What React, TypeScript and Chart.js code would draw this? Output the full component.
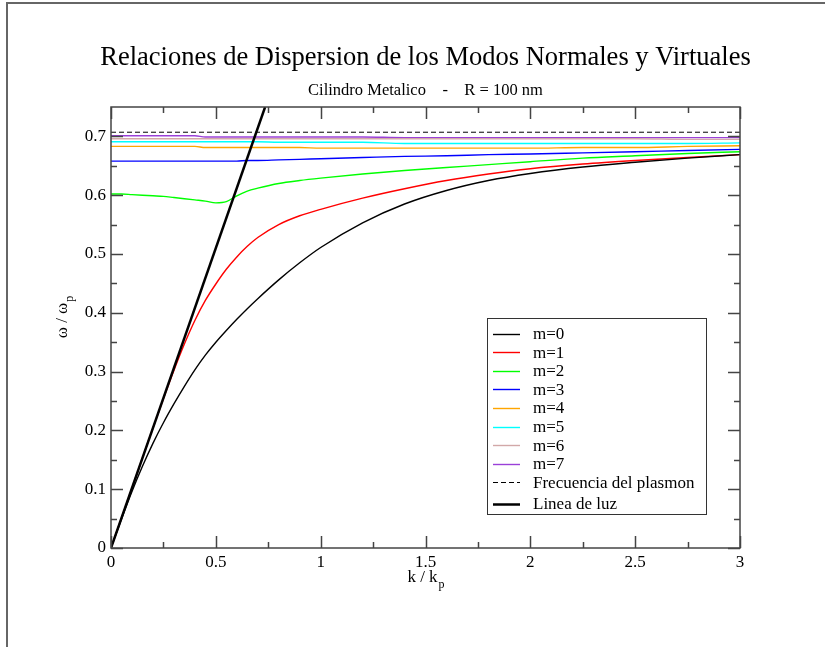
import { useEffect, useRef } from 'react';
import { Chart, registerables } from 'chart.js';

Chart.register(...registerables);

const chartTitle = 'Relaciones de Dispersion de los Modos Normales y Virtuales';
const chartSubtitle = 'Cilindro Metalico    -    R = 100 nm';

const xMajor = [0, 0.5, 1, 1.5, 2, 2.5, 3];
const xTickLabels = ['0', '0.5', '1', '1.5', '2', '2.5', '3'];
const xMinor = [0.25, 0.75, 1.25, 1.75, 2.25, 2.75];
const yMajor = [0, 0.1, 0.2, 0.3, 0.4, 0.5, 0.6, 0.7];
const yTickLabels = ['0', '0.1', '0.2', '0.3', '0.4', '0.5', '0.6', '0.7'];
const yMinor = [0.05, 0.15, 0.25, 0.35, 0.45, 0.55, 0.65];

const kGrid = [0, 0.05, 0.1, 0.15, 0.2, 0.25, 0.3, 0.35, 0.4, 0.45, 0.5, 0.55, 0.6, 0.65, 0.7, 0.8, 0.9, 1.0, 1.2, 1.4, 1.6, 1.8, 2.0, 2.25, 2.5, 2.75, 3.0];

const m0 = [0, 0.049, 0.096, 0.139, 0.178, 0.213, 0.245, 0.275, 0.303, 0.328, 0.350, 0.370, 0.389, 0.407, 0.424, 0.456, 0.485, 0.511, 0.553, 0.585, 0.608, 0.625, 0.637, 0.648, 0.656, 0.663, 0.669];
const m1 = [0, 0.051, 0.102, 0.153, 0.204, 0.254, 0.302, 0.347, 0.387, 0.421, 0.449, 0.474, 0.495, 0.513, 0.528, 0.550, 0.565, 0.576, 0.595, 0.611, 0.625, 0.636, 0.645, 0.653, 0.659, 0.664, 0.669];
const m2 = [0.602, 0.602, 0.601, 0.600, 0.599, 0.598, 0.596, 0.594, 0.592, 0.590, 0.587, 0.589, 0.599, 0.607, 0.612, 0.620, 0.625, 0.629, 0.636, 0.642, 0.647, 0.652, 0.657, 0.663, 0.667, 0.671, 0.674];
const m3 = [0.658, 0.658, 0.658, 0.658, 0.658, 0.658, 0.658, 0.658, 0.658, 0.658, 0.658, 0.658, 0.658, 0.659, 0.659, 0.660, 0.661, 0.662, 0.664, 0.666, 0.667, 0.669, 0.670, 0.672, 0.674, 0.676, 0.678];
const m4 = [0.683, 0.683, 0.683, 0.683, 0.683, 0.683, 0.683, 0.683, 0.683, 0.681, 0.681, 0.681, 0.681, 0.681, 0.681, 0.681, 0.681, 0.680, 0.680, 0.680, 0.680, 0.680, 0.680, 0.681, 0.681, 0.683, 0.684];
const m5 = [0.691, 0.691, 0.691, 0.691, 0.691, 0.691, 0.691, 0.691, 0.691, 0.691, 0.691, 0.691, 0.691, 0.691, 0.691, 0.690, 0.690, 0.690, 0.690, 0.688, 0.688, 0.688, 0.688, 0.688, 0.688, 0.688, 0.689];
const m6 = [0.696, 0.696, 0.696, 0.696, 0.696, 0.696, 0.696, 0.696, 0.696, 0.696, 0.696, 0.696, 0.696, 0.696, 0.696, 0.696, 0.696, 0.696, 0.696, 0.696, 0.696, 0.696, 0.696, 0.696, 0.696, 0.695, 0.695];
const m7 = [0.701, 0.701, 0.701, 0.701, 0.701, 0.701, 0.701, 0.701, 0.701, 0.699, 0.699, 0.699, 0.699, 0.699, 0.699, 0.699, 0.699, 0.699, 0.699, 0.698, 0.698, 0.698, 0.698, 0.698, 0.698, 0.698, 0.698];

const plasmonK = [0, 3];
const plasmonW = [0.7071, 0.7071];
const lightK = [0, 0.735];
const lightW = [0, 0.75];

const seriesLabels = ['m=0', 'm=1', 'm=2', 'm=3', 'm=4', 'm=5', 'm=6', 'm=7'];
const seriesValues = [m0, m1, m2, m3, m4, m5, m6, m7];
const seriesColors = ['#000000', '#ff0000', '#00ff00', '#0000ff', '#ffa500', '#00ffff', '#d2a8a8', '#9a40d8'];

const SERIF = '"Liberation Serif", "DejaVu Serif", serif';

const pts = (xs: number[], ys: number[]) => xs.map((x, i) => ({ x, y: ys[i] }));

const overlay = {
  id: 'overlay',
  beforeDraw(chart: any) {
    const { ctx, width, height } = chart;
    ctx.save();
    ctx.fillStyle = '#ffffff';
    ctx.fillRect(0, 0, width, height);
    ctx.strokeStyle = '#666666';
    ctx.lineWidth = 2;
    ctx.beginPath();
    ctx.moveTo(width, 3);
    ctx.lineTo(7, 3);
    ctx.lineTo(7, height);
    ctx.stroke();
    ctx.restore();
  },
  afterDatasetsDraw(chart: any) {
    const { ctx, chartArea } = chart;
    const { left, right, top, bottom } = chartArea;
    const xs = chart.scales.x;
    const ys = chart.scales.y;
    ctx.save();
    ctx.strokeStyle = '#444444';
    ctx.lineWidth = 1.5;
    ctx.strokeRect(left, top, right - left, bottom - top);
    ctx.beginPath();
    const major = 12;
    const minor = 6;
    xMajor.forEach((v) => {
      const p = Math.round(xs.getPixelForValue(v)) + 0.5;
      ctx.moveTo(p, bottom); ctx.lineTo(p, bottom - major);
      ctx.moveTo(p, top); ctx.lineTo(p, top + major);
    });
    xMinor.forEach((v) => {
      const p = Math.round(xs.getPixelForValue(v)) + 0.5;
      ctx.moveTo(p, bottom); ctx.lineTo(p, bottom - minor);
      ctx.moveTo(p, top); ctx.lineTo(p, top + minor);
    });
    yMajor.forEach((v) => {
      const p = Math.round(ys.getPixelForValue(v)) + 0.5;
      ctx.moveTo(left, p); ctx.lineTo(left + major, p);
      ctx.moveTo(right, p); ctx.lineTo(right - major, p);
    });
    yMinor.forEach((v) => {
      const p = Math.round(ys.getPixelForValue(v)) + 0.5;
      ctx.moveTo(left, p); ctx.lineTo(left + minor, p);
      ctx.moveTo(right, p); ctx.lineTo(right - minor, p);
    });
    ctx.stroke();

    // legend
    const lx0 = 487, ly0 = 318, lx1 = 706, ly1 = 514;
    ctx.fillStyle = '#ffffff';
    ctx.fillRect(lx0, ly0, lx1 - lx0, ly1 - ly0);
    ctx.strokeStyle = '#333333';
    ctx.lineWidth = 1;
    ctx.strokeRect(lx0 + 0.5, ly0 + 0.5, lx1 - lx0, ly1 - ly0);
    ctx.font = `17px ${SERIF}`;
    ctx.textBaseline = 'middle';
    ctx.textAlign = 'left';
    chart.data.datasets.forEach((ds: any, i: number) => {
      const y = i < 9 ? 333.5 + i * 18.6 : 503.5;
      ctx.save();
      ctx.strokeStyle = ds.borderColor;
      ctx.lineWidth = ds.borderWidth;
      ctx.setLineDash(ds.borderDash || []);
      ctx.beginPath();
      ctx.moveTo(493, Math.round(y) + 0.5);
      ctx.lineTo(520, Math.round(y) + 0.5);
      ctx.stroke();
      ctx.restore();
      ctx.fillStyle = '#000000';
      ctx.fillText(ds.label, 533, y + 1);
    });
    ctx.restore();
  },
  afterDraw(chart: any) {
    const { ctx, chartArea } = chart;
    const cx = (chartArea.left + chartArea.right) / 2;
    ctx.save();
    ctx.fillStyle = '#000000';
    ctx.textAlign = 'center';
    ctx.textBaseline = 'middle';
    ctx.font = `26.5px ${SERIF}`;
    ctx.fillText(chartTitle, cx, 58.5);
    ctx.font = `16.5px ${SERIF}`;
    ctx.fillText(chartSubtitle, cx, 91);

    // x axis label
    ctx.font = `17px ${SERIF}`;
    const xMain = 'k / k';
    const wMain = ctx.measureText(xMain).width;
    ctx.font = `12px ${SERIF}`;
    const wSub = ctx.measureText('p').width;
    const sx = cx - (wMain + wSub) / 2;
    ctx.textAlign = 'left';
    ctx.font = `17px ${SERIF}`;
    ctx.fillText(xMain, sx, 578);
    ctx.font = `12px ${SERIF}`;
    ctx.fillText('p', sx + wMain + 1, 585);

    // y axis label
    const cy = (chartArea.top + chartArea.bottom) / 2 - 10;
    ctx.translate(63, cy);
    ctx.rotate(-Math.PI / 2);
    ctx.font = `17px ${SERIF}`;
    const yMain = '\u03c9 / \u03c9';
    const wy = ctx.measureText(yMain).width;
    ctx.font = `12px ${SERIF}`;
    const wys = ctx.measureText('p').width;
    const sy = -(wy + wys) / 2;
    ctx.font = `17px ${SERIF}`;
    ctx.fillText(yMain, sy, 0);
    ctx.font = `12px ${SERIF}`;
    ctx.fillText('p', sy + wy + 1, 7);
    ctx.restore();
  },
};

export default function App() {
  const ref = useRef<HTMLCanvasElement>(null);
  useEffect(() => {
    if (!ref.current) return;
    const datasets: any[] = seriesLabels.map((label, i) => ({
      label,
      data: pts(kGrid, seriesValues[i]),
      borderColor: seriesColors[i],
      backgroundColor: seriesColors[i],
      borderWidth: 1.4,
      showLine: true,
      pointRadius: 0,
      cubicInterpolationMode: 'monotone',
      order: 2,
    }));
    datasets.push({
      label: 'Frecuencia del plasmon',
      data: pts(plasmonK, plasmonW),
      borderColor: '#000000',
      backgroundColor: '#000000',
      borderWidth: 1,
      borderDash: [5, 3],
      showLine: true,
      pointRadius: 0,
      order: 1,
    });
    datasets.push({
      label: 'Linea de luz',
      data: pts(lightK, lightW),
      borderColor: '#000000',
      backgroundColor: '#000000',
      borderWidth: 2.5,
      showLine: true,
      pointRadius: 0,
      order: 0,
    });
    const chart = new Chart(ref.current, {
      type: 'scatter',
      data: { datasets },
      options: {
        responsive: false,
        animation: false,
        layout: { padding: { left: 61, right: 85, top: 107, bottom: 59 } },
        plugins: {
          legend: { display: false },
          title: { display: false },
          tooltip: { enabled: false },
        },
        scales: {
          x: {
            type: 'linear',
            min: 0,
            max: 3,
            grid: { display: false, drawTicks: false },
            border: { display: false },
            afterBuildTicks: (scale: any) => { scale.ticks = xMajor.map((v) => ({ value: v })); },
            afterFit: (scale: any) => { scale.height = 40; },
            ticks: {
              padding: 4,
              color: '#000000',
              font: { family: SERIF, size: 17 },
              callback: (_v: any, i: number) => xTickLabels[i],
            },
          },
          y: {
            type: 'linear',
            min: 0,
            max: 0.75,
            grid: { display: false, drawTicks: false },
            border: { display: false },
            afterBuildTicks: (scale: any) => { scale.ticks = yMajor.map((v) => ({ value: v })); },
            afterFit: (scale: any) => { scale.width = 50; },
            ticks: {
              padding: 5,
              color: '#000000',
              font: { family: SERIF, size: 17 },
              callback: (_v: any, i: number) => yTickLabels[i],
            },
          },
        },
      },
      plugins: [overlay],
    } as any);
    return () => chart.destroy();
  }, []);
  return (
    <canvas
      ref={ref}
      width={825}
      height={647}
      style={{ position: 'absolute', left: 0, top: 0, display: 'block' }}
    />
  );
}
